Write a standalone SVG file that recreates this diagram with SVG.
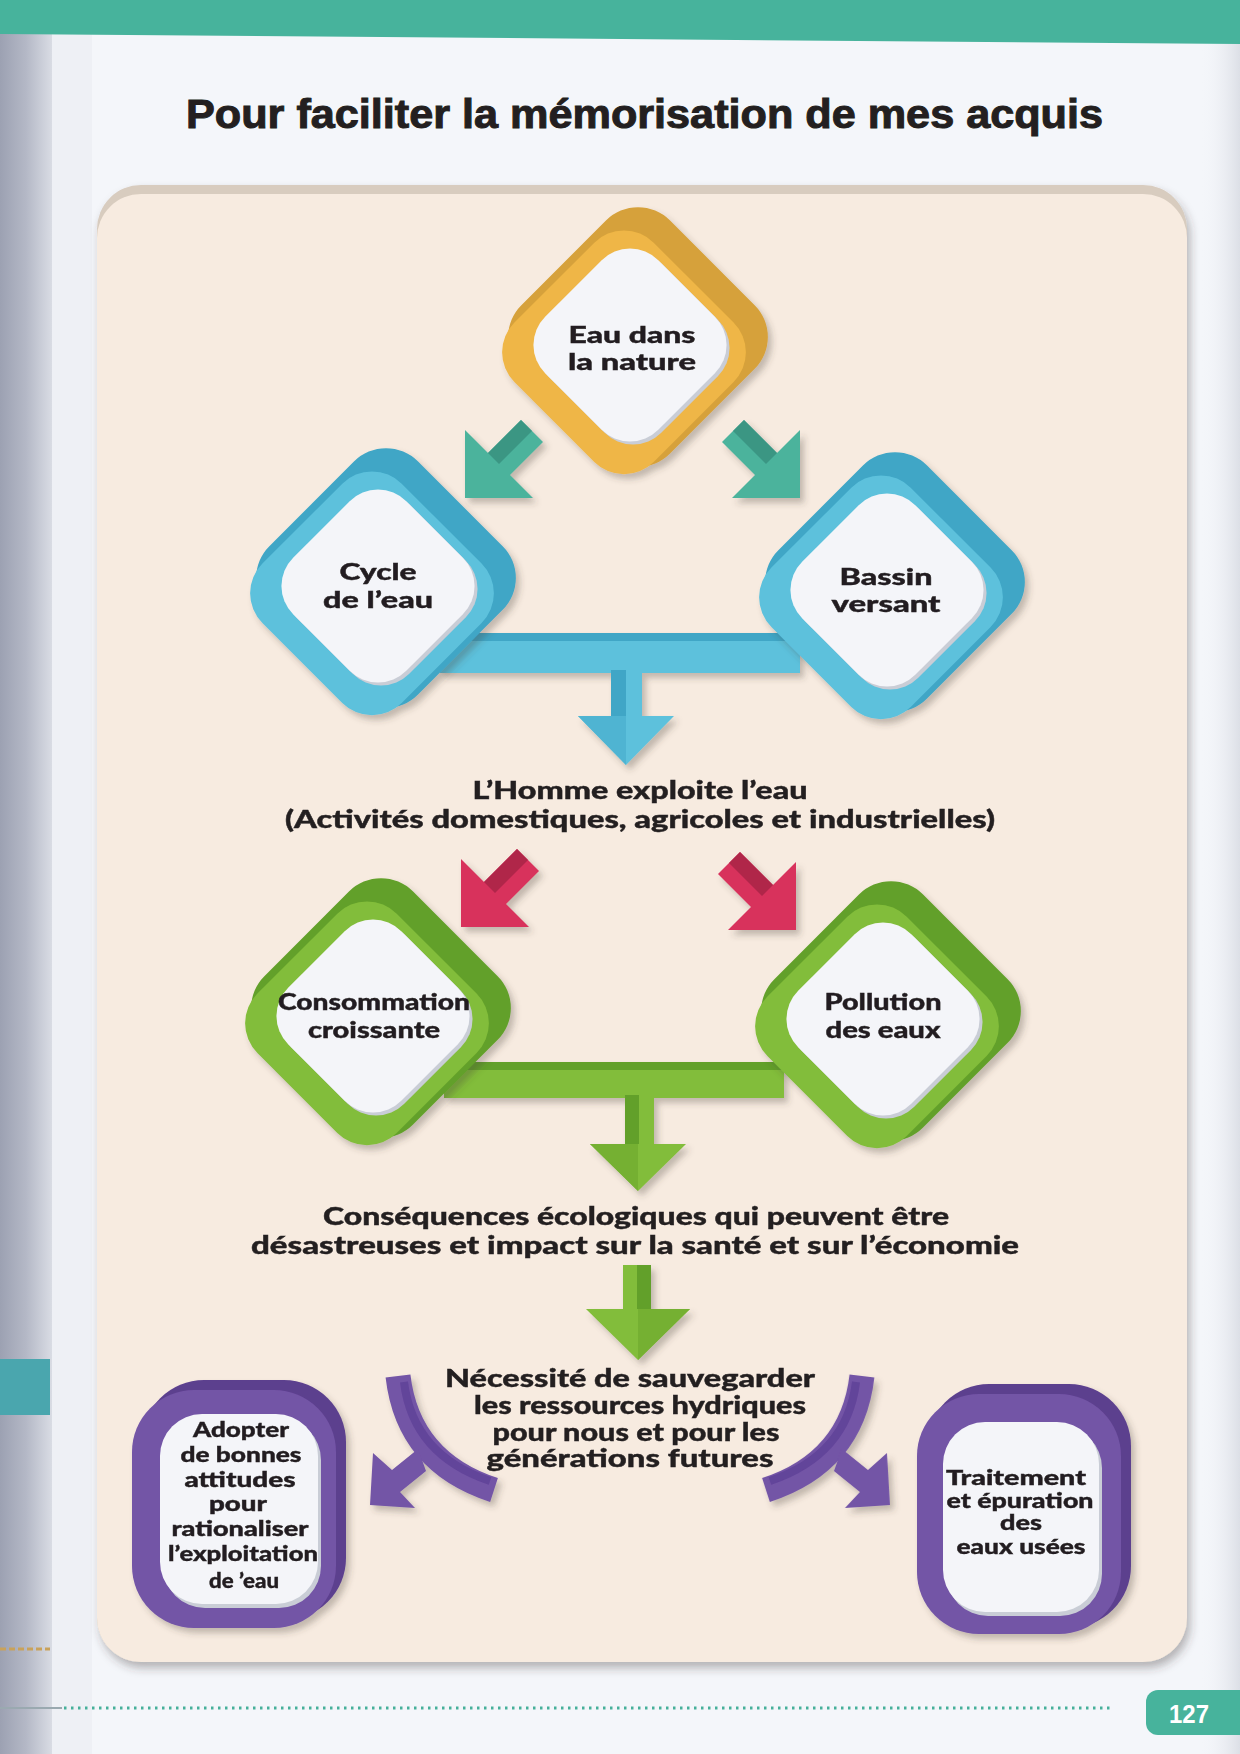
<svg xmlns="http://www.w3.org/2000/svg" width="1240" height="1754" viewBox="0 0 1240 1754">
<defs>
<style>
.t{font-family:Lato,"DejaVu Sans","Liberation Sans",sans-serif;font-weight:900;fill:#231f20;text-anchor:middle;stroke:#231f20;stroke-width:0.4}
.lbl{font-size:24px}
.dl{font-size:22px}
.pl{font-size:21px}
.ob{fill:#d6a13a}.of{fill:#efb646}
.bb{fill:#3fa6c6}.bf{fill:#5dc1dc}
.gb{fill:#62a02a}.gf{fill:#82bd3a}
.pb{fill:#5c3f8e}.pf{fill:#7354a6}
.w{fill:#f4f5f9}.ws{fill:#c9cdd6}
.tl{fill:#4cb39c}.tld{fill:#3a9683}
.pk{fill:#d8325c}.pkd{fill:#b02649}
</style>
<filter id="sh" x="-20%" y="-20%" width="140%" height="140%">
<feDropShadow dx="4" dy="5" stdDeviation="3" flood-color="#4a4038" flood-opacity="0.3"/>
</filter>
<filter id="psh" x="-5%" y="-5%" width="110%" height="110%">
<feDropShadow dx="3" dy="6" stdDeviation="5" flood-color="#3a3430" flood-opacity="0.35"/>
</filter>
<linearGradient id="gut" x1="0" x2="1" y1="0" y2="0">
<stop offset="0" stop-color="#9ca1b2"/>
<stop offset="0.5" stop-color="#b4b8c6"/>
<stop offset="1" stop-color="#d9dce4"/>
</linearGradient>
<linearGradient id="redge" x1="0" x2="1" y1="0" y2="0">
<stop offset="0" stop-color="#f4f6fa" stop-opacity="0"/>
<stop offset="1" stop-color="#dcdfe6"/>
</linearGradient>
<path id="arr" d="M0,0 L0,-68 L23,-45 L56,-78 L78,-56 L45,-23 L68,0 Z"/>
<path id="arrd" d="M23,-45 L56,-78 L67,-67 L34,-34 Z"/>
</defs>

<!-- page -->
<rect x="0" y="0" width="1240" height="1754" fill="#f4f6fa"/>
<rect x="0" y="0" width="52" height="1754" fill="url(#gut)"/>
<rect x="52" y="0" width="40" height="1754" fill="#eef0f5"/>
<rect x="1200" y="0" width="40" height="1754" fill="url(#redge)"/>
<polygon points="0,0 1240,0 1240,44 0,34" fill="#47b39c"/>
<rect x="0" y="1359" width="50" height="56" fill="#4aa6ae"/>
<line x1="0" y1="1649" x2="50" y2="1649" stroke="#c9a25a" stroke-width="3" stroke-dasharray="6 3"/>

<text x="186" y="128" font-family="'Liberation Sans',Arial,sans-serif" font-weight="bold" font-size="40" fill="#231f20" stroke="#231f20" stroke-width="1" textLength="917" lengthAdjust="spacingAndGlyphs">Pour faciliter la mémorisation de mes acquis</text>

<!-- panel -->
<g id="panel" filter="url(#psh)">
<rect x="97" y="185" width="1090" height="1477" rx="44" fill="#d8ccbf"/>
<rect x="97" y="194" width="1090" height="1468" rx="44" fill="#f7ebe0"/>
</g>

<!-- connectors -->
<g id="connectors">
<g filter="url(#sh)">
<use href="#arr" class="tl" transform="translate(465,498)"/>
<use href="#arrd" class="tld" transform="translate(465,498)"/>
<use href="#arr" class="tl" transform="translate(800,498) scale(-1,1)"/>
<use href="#arrd" class="tld" transform="translate(800,498) scale(-1,1)"/>
<use href="#arr" class="pk" transform="translate(461,927)"/>
<use href="#arrd" class="pkd" transform="translate(461,927)"/>
<use href="#arr" class="pk" transform="translate(796,930) scale(-1,1)"/>
<use href="#arrd" class="pkd" transform="translate(796,930) scale(-1,1)"/>
</g>
<g filter="url(#sh)">
<rect x="440" y="633" width="360" height="40" class="bf"/>
<rect x="440" y="633" width="360" height="8" class="bb"/>
<rect x="611" y="670" width="31" height="48" class="bf"/>
<rect x="611" y="670" width="15" height="48" class="bb"/>
<polygon points="578,716 674,716 626,765" class="bf"/>
<polygon points="578,716 626,716 626,765" fill="#4fb4d2"/>
</g>
<g filter="url(#sh)">
<rect x="444" y="1062" width="340" height="36" class="gf"/>
<rect x="444" y="1062" width="340" height="8" class="gb"/>
<rect x="625" y="1095" width="29" height="50" class="gf"/>
<rect x="625" y="1095" width="14" height="50" class="gb"/>
<polygon points="590,1144 686,1144 638,1191" class="gf"/>
<polygon points="590,1144 638,1144 638,1191" fill="#74b032"/>
</g>
<g filter="url(#sh)">
<rect x="623" y="1265" width="28" height="46" class="gf"/>
<rect x="637" y="1265" width="14" height="46" class="gb"/>
<polygon points="586,1309 690,1309 638,1360" class="gf"/>
<polygon points="638,1309 690,1309 638,1360" fill="#74b032"/>
</g>
<g filter="url(#sh)">
<path d="M398,1376 Q408,1462 494,1490" fill="none" stroke="#7354a6" stroke-width="25"/>
<path d="M404,1382 Q413,1455 490,1481" fill="none" stroke="#62449a" stroke-width="8"/>
<path d="M373,1453 L392,1470 L418,1449 L426,1471 L400,1492 L415,1508 L370,1505 Z" class="pf"/>
<g transform="translate(1260,0) scale(-1,1)">
<path d="M398,1376 Q408,1462 494,1490" fill="none" stroke="#7354a6" stroke-width="25"/>
<path d="M404,1382 Q413,1455 490,1481" fill="none" stroke="#62449a" stroke-width="8"/>
<path d="M373,1453 L392,1470 L418,1449 L426,1471 L400,1492 L415,1508 L370,1505 Z" class="pf"/>
</g>
</g>
</g>

<!-- nodes -->
<g id="n-eau-nature" filter="url(#sh)">
<rect x="-105" y="-105" width="210" height="210" rx="45" class="ob" transform="translate(638,337) rotate(45)"/>
<rect x="-99" y="-99" width="197" height="197" rx="42" class="of" transform="translate(624,353) rotate(45)"/>
<rect x="-80" y="-80" width="160" height="160" rx="40" class="ws" transform="translate(633,348) rotate(45)"/>
<rect x="-80" y="-80" width="160" height="160" rx="40" class="w" transform="translate(630,345) rotate(45)"/>
<text class="t dl" x="632" y="343" textLength="127" lengthAdjust="spacingAndGlyphs">Eau dans</text>
<text class="t dl" x="632" y="370" textLength="128" lengthAdjust="spacingAndGlyphs">la nature</text>
</g>

<g id="n-cycle" filter="url(#sh)">
<rect x="-105" y="-105" width="210" height="210" rx="45" class="bb" transform="translate(386,578) rotate(45)"/>
<rect x="-99" y="-99" width="197" height="197" rx="42" class="bf" transform="translate(372,594) rotate(45)"/>
<rect x="-80" y="-80" width="160" height="160" rx="40" class="ws" transform="translate(381,589) rotate(45)"/>
<rect x="-80" y="-80" width="160" height="160" rx="40" class="w" transform="translate(378,586) rotate(45)"/>
<text class="t dl" x="378" y="580" textLength="77" lengthAdjust="spacingAndGlyphs">Cycle</text>
<text class="t dl" x="378" y="608" textLength="110" lengthAdjust="spacingAndGlyphs">de l’eau</text>
</g>

<g id="n-bassin" filter="url(#sh)">
<rect x="-105" y="-105" width="210" height="210" rx="45" class="bb" transform="translate(895,582) rotate(45)"/>
<rect x="-99" y="-99" width="197" height="197" rx="42" class="bf" transform="translate(881,598) rotate(45)"/>
<rect x="-80" y="-80" width="160" height="160" rx="40" class="ws" transform="translate(890,593) rotate(45)"/>
<rect x="-80" y="-80" width="160" height="160" rx="40" class="w" transform="translate(887,590) rotate(45)"/>
<text class="t dl" x="886" y="585" textLength="93" lengthAdjust="spacingAndGlyphs">Bassin</text>
<text class="t dl" x="886" y="612" textLength="109" lengthAdjust="spacingAndGlyphs">versant</text>
</g>

<g id="n-homme">
<text class="t lbl" x="640" y="799" textLength="335" lengthAdjust="spacingAndGlyphs">L’Homme exploite l’eau</text>
<text class="t lbl" x="640" y="828" textLength="710" lengthAdjust="spacingAndGlyphs">(Activités domestiques, agricoles et industrielles)</text>
</g>

<g id="n-consommation" filter="url(#sh)">
<rect x="-105" y="-105" width="210" height="210" rx="45" class="gb" transform="translate(381,1008) rotate(45)"/>
<rect x="-99" y="-99" width="197" height="197" rx="42" class="gf" transform="translate(367,1024) rotate(45)"/>
<rect x="-80" y="-80" width="160" height="160" rx="40" class="ws" transform="translate(376,1019) rotate(45)"/>
<rect x="-80" y="-80" width="160" height="160" rx="40" class="w" transform="translate(373,1016) rotate(45)"/>
<text class="t dl" x="374" y="1010" textLength="192" lengthAdjust="spacingAndGlyphs">Consommation</text>
<text class="t dl" x="374" y="1038" textLength="132" lengthAdjust="spacingAndGlyphs">croissante</text>
</g>

<g id="n-pollution" filter="url(#sh)">
<rect x="-105" y="-105" width="210" height="210" rx="45" class="gb" transform="translate(891,1011) rotate(45)"/>
<rect x="-99" y="-99" width="197" height="197" rx="42" class="gf" transform="translate(877,1027) rotate(45)"/>
<rect x="-80" y="-80" width="160" height="160" rx="40" class="ws" transform="translate(886,1022) rotate(45)"/>
<rect x="-80" y="-80" width="160" height="160" rx="40" class="w" transform="translate(883,1019) rotate(45)"/>
<text class="t dl" x="883" y="1010" textLength="117" lengthAdjust="spacingAndGlyphs">Pollution</text>
<text class="t dl" x="883" y="1038" textLength="115" lengthAdjust="spacingAndGlyphs">des eaux</text>
</g>

<g id="n-consequences">
<text class="t lbl" x="636" y="1225" textLength="626" lengthAdjust="spacingAndGlyphs">Conséquences écologiques qui peuvent être</text>
<text class="t lbl" x="635" y="1254" textLength="768" lengthAdjust="spacingAndGlyphs">désastreuses et impact sur la santé et sur l’économie</text>
</g>

<g id="n-necessite">
<text class="t lbl" x="630" y="1387" textLength="370" lengthAdjust="spacingAndGlyphs">Nécessité de sauvegarder</text>
<text class="t lbl" x="640" y="1414" textLength="332" lengthAdjust="spacingAndGlyphs">les ressources hydriques</text>
<text class="t lbl" x="636" y="1441" textLength="287" lengthAdjust="spacingAndGlyphs">pour nous et pour les</text>
<text class="t lbl" x="630" y="1467" textLength="287" lengthAdjust="spacingAndGlyphs">générations futures</text>
</g>

<g id="n-adopter" filter="url(#sh)">
<rect x="142" y="1380" width="204" height="240" rx="62" class="pb"/>
<rect x="132" y="1390" width="204" height="238" rx="62" class="pf"/>
<rect x="163" y="1418" width="158" height="190" rx="42" class="ws"/>
<rect x="160" y="1414" width="158" height="190" rx="42" class="w"/>
<text class="t pl" x="241" y="1437" textLength="96" lengthAdjust="spacingAndGlyphs">Adopter</text>
<text class="t pl" x="241" y="1462" textLength="121" lengthAdjust="spacingAndGlyphs">de bonnes</text>
<text class="t pl" x="240" y="1487" textLength="111" lengthAdjust="spacingAndGlyphs">attitudes</text>
<text class="t pl" x="238" y="1511" textLength="58" lengthAdjust="spacingAndGlyphs">pour</text>
<text class="t pl" x="240" y="1536" textLength="137" lengthAdjust="spacingAndGlyphs">rationaliser</text>
<text class="t pl" x="243" y="1561" textLength="150" lengthAdjust="spacingAndGlyphs">l’exploitation</text>
<text class="t pl" x="244" y="1588" textLength="70" lengthAdjust="spacingAndGlyphs">de ’eau</text>
</g>

<g id="n-traitement" filter="url(#sh)">
<rect x="927" y="1384" width="204" height="244" rx="62" class="pb"/>
<rect x="917" y="1394" width="204" height="240" rx="62" class="pf"/>
<rect x="946" y="1426" width="156" height="190" rx="42" class="ws"/>
<rect x="943" y="1422" width="156" height="190" rx="42" class="w"/>
<text class="t pl" x="1016" y="1485" textLength="140" lengthAdjust="spacingAndGlyphs">Traitement</text>
<text class="t pl" x="1020" y="1508" textLength="147" lengthAdjust="spacingAndGlyphs">et épuration</text>
<text class="t pl" x="1021" y="1530" textLength="42" lengthAdjust="spacingAndGlyphs">des</text>
<text class="t pl" x="1021" y="1554" textLength="129" lengthAdjust="spacingAndGlyphs">eaux usées</text>
</g>

<!-- footer -->
<line x1="0" y1="1708" x2="62" y2="1708" stroke="#9aa9b0" stroke-width="2"/>
<line x1="64" y1="1708" x2="1113" y2="1708" stroke="#46b09a" stroke-width="3" stroke-dasharray="2.5 4.5"/>
<rect x="1146" y="1690" width="120" height="45" rx="12" fill="#47b39c"/>
<text x="1189" y="1723" font-family="'Liberation Sans',Arial,sans-serif" font-weight="bold" font-size="26" fill="#ffffff" text-anchor="middle" textLength="40" lengthAdjust="spacingAndGlyphs">127</text>
</svg>
